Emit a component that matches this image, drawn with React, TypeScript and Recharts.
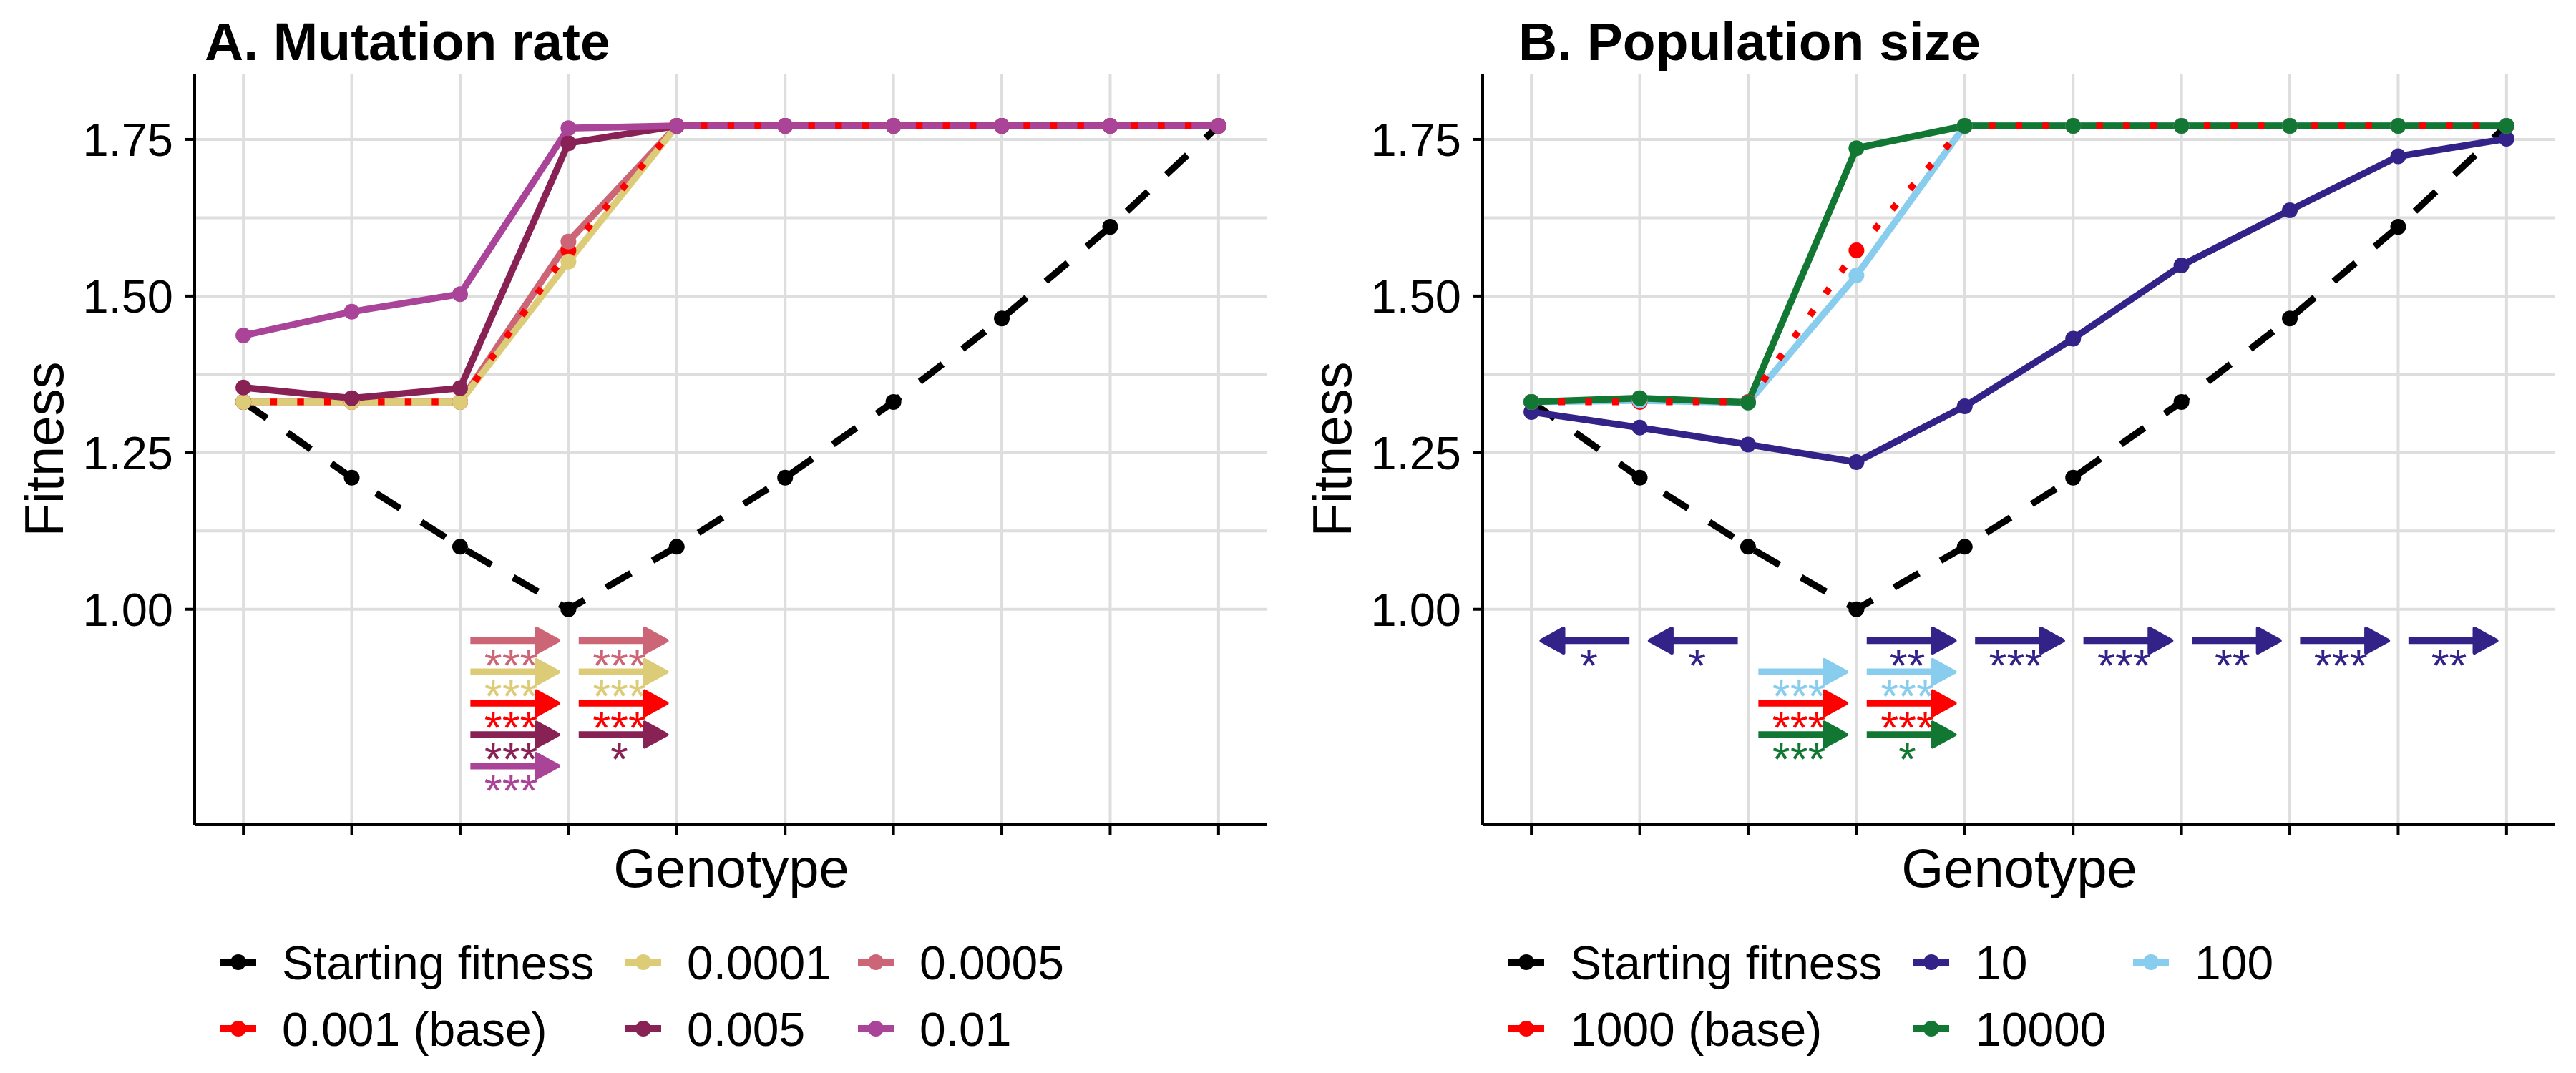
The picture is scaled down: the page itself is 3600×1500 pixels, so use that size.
import React from 'react';
import { LineChart, Line, XAxis, YAxis, CartesianGrid, ReferenceLine, ReferenceDot } from 'recharts';

const FONT = '"Liberation Sans", Arial, Helvetica, sans-serif';

// genotypes along the x axis
const genotypes = [1, 2, 3, 4, 5, 6, 7, 8, 9, 10];
const startingFitness = [1.331, 1.21, 1.1, 1.0, 1.1, 1.21, 1.331, 1.4641, 1.6105, 1.7716];

// A. mutation rate
const mu0001 = [1.331, 1.331, 1.331, 1.555, 1.7716, 1.7716, 1.7716, 1.7716, 1.7716, 1.7716];
const mu0005 = [1.331, 1.331, 1.331, 1.587, 1.7716, 1.7716, 1.7716, 1.7716, 1.7716, 1.7716];
const mu001 = [1.331, 1.331, 1.331, 1.573, 1.7716, 1.7716, 1.7716, 1.7716, 1.7716, 1.7716];
const mu005 = [1.354, 1.337, 1.353, 1.744, 1.7716, 1.7716, 1.7716, 1.7716, 1.7716, 1.7716];
const mu01 = [1.437, 1.475, 1.503, 1.768, 1.7716, 1.7716, 1.7716, 1.7716, 1.7716, 1.7716];

// B. population size
const n10 = [1.315, 1.29, 1.263, 1.235, 1.324, 1.432, 1.549, 1.637, 1.723, 1.751];
const n100 = [1.331, 1.333, 1.33, 1.533, 1.7716, 1.7716, 1.7716, 1.7716, 1.7716, 1.7716];
const n1000 = [1.331, 1.331, 1.331, 1.573, 1.7716, 1.7716, 1.7716, 1.7716, 1.7716, 1.7716];
const n10000 = [1.331, 1.337, 1.33, 1.736, 1.7716, 1.7716, 1.7716, 1.7716, 1.7716, 1.7716];

const yTicks = [1, 1.25, 1.5, 1.75];
const yGrid = [1, 1.125, 1.25, 1.375, 1.5, 1.625, 1.75];

type Arrow = { key: string; from: number; to: number; y: number; stars: string };

// significance arrows (direction of change between neighbouring genotypes)
const arrowsA: Arrow[] = [
  { key: 'mu0005', from: 3, to: 4, y: 0.95, stars: '***' },
  { key: 'mu0001', from: 3, to: 4, y: 0.9, stars: '***' },
  { key: 'mu001', from: 3, to: 4, y: 0.85, stars: '***' },
  { key: 'mu005', from: 3, to: 4, y: 0.8, stars: '***' },
  { key: 'mu01', from: 3, to: 4, y: 0.75, stars: '***' },
  { key: 'mu0005', from: 4, to: 5, y: 0.95, stars: '***' },
  { key: 'mu0001', from: 4, to: 5, y: 0.9, stars: '***' },
  { key: 'mu001', from: 4, to: 5, y: 0.85, stars: '***' },
  { key: 'mu005', from: 4, to: 5, y: 0.8, stars: '*' },
];

const arrowsB: Arrow[] = [
  { key: 'n10', from: 2, to: 1, y: 0.95, stars: '*' },
  { key: 'n10', from: 3, to: 2, y: 0.95, stars: '*' },
  { key: 'n10', from: 4, to: 5, y: 0.95, stars: '**' },
  { key: 'n10', from: 5, to: 6, y: 0.95, stars: '***' },
  { key: 'n10', from: 6, to: 7, y: 0.95, stars: '***' },
  { key: 'n10', from: 7, to: 8, y: 0.95, stars: '**' },
  { key: 'n10', from: 8, to: 9, y: 0.95, stars: '***' },
  { key: 'n10', from: 9, to: 10, y: 0.95, stars: '**' },
  { key: 'n100', from: 3, to: 4, y: 0.9, stars: '***' },
  { key: 'n100', from: 4, to: 5, y: 0.9, stars: '***' },
  { key: 'n1000', from: 3, to: 4, y: 0.85, stars: '***' },
  { key: 'n1000', from: 4, to: 5, y: 0.85, stars: '***' },
  { key: 'n10000', from: 3, to: 4, y: 0.8, stars: '***' },
  { key: 'n10000', from: 4, to: 5, y: 0.8, stars: '*' },
];

const colors: Record<string, string> = {
  start: '#000000',
  mu0001: '#DDCC77',
  mu0005: '#CC6677',
  mu001: '#FF0000',
  mu005: '#882255',
  mu01: '#AA4499',
  n10: '#332288',
  n100: '#88CCEE',
  n1000: '#FF0000',
  n10000: '#117733',
};

const dashes: Record<string, string | undefined> = {
  start: '40 35',
  mu001: '9.4 28.2',
  n1000: '9.4 28.2',
};

const legendA = [
  { key: 'start', label: 'Starting fitness', col: 0, row: 0 },
  { key: 'mu001', label: '0.001 (base)', col: 0, row: 1 },
  { key: 'mu0001', label: '0.0001', col: 1, row: 0 },
  { key: 'mu005', label: '0.005', col: 1, row: 1 },
  { key: 'mu0005', label: '0.0005', col: 2, row: 0 },
  { key: 'mu01', label: '0.01', col: 2, row: 1 },
];
const legendB = [
  { key: 'start', label: 'Starting fitness', col: 0, row: 0 },
  { key: 'n1000', label: '1000 (base)', col: 0, row: 1 },
  { key: 'n10', label: '10', col: 1, row: 0 },
  { key: 'n10000', label: '10000', col: 1, row: 1 },
  { key: 'n100', label: '100', col: 2, row: 0 },
];

function buildRows(series: Record<string, number[]>) {
  return genotypes.map((g, i) => {
    const row: Record<string, number> = { g };
    Object.keys(series).forEach((k) => {
      row[k] = series[k][i];
    });
    return row;
  });
}

const dataA = buildRows({ start: startingFitness, mu0001, mu0005, mu001, mu005, mu01 });
const dataB = buildRows({ start: startingFitness, n10, n100, n1000, n10000 });

const arrowShape = (color: string) => (p: any) => {
  const { x1, y1, x2 } = p;
  const dir = x2 > x1 ? 1 : -1;
  const head = 36;
  const half = 17;
  const bx = x2 - dir * (head - 2.5);
  return (
    <g>
      <line x1={x1} y1={y1} x2={bx + dir * 3} y2={y1} stroke={color} strokeWidth={9.4} />
      <polygon
        points={`${x2 - dir * 2.5},${y1} ${bx},${y1 - half} ${bx},${y1 + half}`}
        fill={color}
        stroke={color}
        strokeWidth={5}
        strokeLinejoin="round"
      />
    </g>
  );
};

const starShape = (color: string, stars: string) => (p: any) => (
  <text x={p.cx} y={p.cy + 57} textAnchor="middle" fontSize={64} fill={color} fontFamily={FONT}>
    {stars}
  </text>
);

type PanelProps = {
  title: string;
  titleX: number;
  data: Record<string, number>[];
  lineOrder: string[];
  dotOrder: string[];
  arrows: Arrow[];
  legend: { key: string; label: string; col: number; row: number }[];
  legendCols: number[];
};

const legendRows = [1345, 1438];

function Panel({ title, titleX, data, lineOrder, dotOrder, arrows, legend, legendCols }: PanelProps) {
  return (
    <div style={{ position: 'relative', width: 1800, height: 1500 }}>
      <LineChart width={1800} height={1500} data={data} margin={{ top: 103, right: 29, bottom: 0, left: 0 }}>
        <CartesianGrid stroke="#DEDEDE" strokeWidth={4} horizontalValues={yGrid} verticalValues={genotypes} />
        <XAxis
          dataKey="g"
          type="number"
          domain={[0.55, 10.45]}
          ticks={genotypes}
          allowDataOverflow
          height={347}
          tickFormatter={() => ''}
          tickSize={14}
          axisLine={{ stroke: '#000', strokeWidth: 4 }}
          tickLine={{ stroke: '#000', strokeWidth: 4 }}
        />
        <YAxis
          type="number"
          domain={[0.656, 1.855]}
          ticks={yTicks}
          allowDataOverflow
          width={272}
          tickFormatter={(v: number) => v.toFixed(2)}
          tickSize={14}
          tickMargin={16}
          axisLine={{ stroke: '#000', strokeWidth: 4 }}
          tickLine={{ stroke: '#000', strokeWidth: 4 }}
          tick={{ fill: '#000', fontSize: 65, fontFamily: FONT }}
        />
        {lineOrder.map((k) => (
          <Line
            key={'l' + k}
            dataKey={k}
            stroke={colors[k]}
            strokeWidth={9.4}
            strokeDasharray={dashes[k]}
            dot={false}
            activeDot={false}
            legendType="none"
            isAnimationActive={false}
          />
        ))}
        {dotOrder.map((k) => (
          <Line
            key={'d' + k}
            dataKey={k}
            stroke="none"
            strokeWidth={0}
            dot={{ r: 11, fill: colors[k], stroke: 'none' }}
            activeDot={false}
            legendType="none"
            isAnimationActive={false}
          />
        ))}
        {arrows.map((a, i) => {
          const dir = a.to > a.from ? 1 : -1;
          return (
            <ReferenceLine
              key={'a' + i}
              segment={[
                { x: a.from + 0.095 * dir, y: a.y },
                { x: a.to - 0.075 * dir, y: a.y },
              ]}
              ifOverflow="visible"
              shape={arrowShape(colors[a.key])}
            />
          );
        })}
        {arrows.map((a, i) => {
          const dir = a.to > a.from ? 1 : -1;
          return (
            <ReferenceDot
              key={'s' + i}
              x={a.from + 0.47 * dir}
              y={a.y}
              r={1}
              ifOverflow="visible"
              shape={starShape(colors[a.key], a.stars)}
            />
          );
        })}
      </LineChart>
      <svg
        width={1800}
        height={1500}
        style={{ position: 'absolute', left: 0, top: 0, pointerEvents: 'none' }}
        fontFamily={FONT}
      >
        <text x={titleX} y={84} fontSize={75} fontWeight="bold" fill="#000">
          {title}
        </text>
        <text transform="translate(88,628) rotate(-90)" textAnchor="middle" fontSize={76} fill="#000">
          Fitness
        </text>
        <text x={1022} y={1240} textAnchor="middle" fontSize={76} fill="#000">
          Genotype
        </text>
        {legend.map((it) => {
          const cx = legendCols[it.col];
          const cy = legendRows[it.row];
          return (
            <g key={it.key}>
              <line x1={cx - 25} x2={cx + 25} y1={cy} y2={cy} stroke={colors[it.key]} strokeWidth={10} />
              <circle cx={cx} cy={cy} r={11} fill={colors[it.key]} />
              <text x={cx + 61} y={cy + 24} fontSize={66} fill="#000">
                {it.label}
              </text>
            </g>
          );
        })}
      </svg>
    </div>
  );
}

export default function App() {
  return (
    <div
      style={{
        position: 'absolute',
        left: 0,
        top: 0,
        width: 3600,
        height: 1500,
        display: 'flex',
        background: '#fff',
        fontFamily: FONT,
      }}
    >
      <Panel
        title="A. Mutation rate"
        titleX={286}
        data={dataA}
        lineOrder={['start', 'mu0005', 'mu0001', 'mu005', 'mu01', 'mu001']}
        dotOrder={['start', 'mu001', 'mu0005', 'mu0001', 'mu005', 'mu01']}
        arrows={arrowsA}
        legend={legendA}
        legendCols={[333, 899, 1224]}
      />
      <Panel
        title="B. Population size"
        titleX={322}
        data={dataB}
        lineOrder={['start', 'n10', 'n100', 'n10000', 'n1000']}
        dotOrder={['start', 'n10', 'n1000', 'n100', 'n10000']}
        arrows={arrowsB}
        legend={legendB}
        legendCols={[333, 899, 1206]}
      />
    </div>
  );
}
